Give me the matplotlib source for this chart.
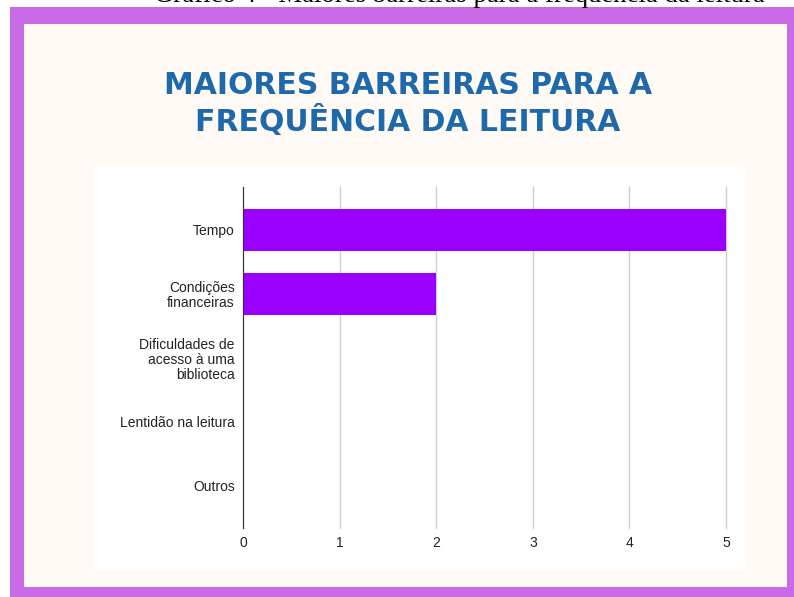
import matplotlib.pyplot as plt
from matplotlib.patches import Rectangle

plt.rcParams['font.family'] = ['Liberation Sans', 'DejaVu Sans']

categorias = ['Tempo', 'Condições\nfinanceiras', 'Dificuldades de\nacesso à uma\nbiblioteca',
              'Lentidão na leitura', 'Outros']
valores = [5, 2, 0, 0, 0]
ticks_x = [0, 1, 2, 3, 4, 5]

W, H = 794, 597
fig = plt.figure(figsize=(W / 100, H / 100), dpi=100)
fig.patch.set_facecolor('white')


def caixa(x0, y0, x1, y1, cor):
    # coordenadas em pixels, origem no canto superior esquerdo
    r = Rectangle((x0 / W, 1 - y1 / H), (x1 - x0) / W, (y1 - y0) / H,
                  transform=fig.transFigure, facecolor=cor, edgecolor='none', zorder=-10)
    fig.add_artist(r)


caixa(10, 7, W, H, '#C96BE6')
caixa(24, 24, 787, 587, '#FFFAF5')
caixa(93, 167, 746, 570, 'white')

# legenda cortada no topo da página
fig.text(459 / W, 1 - 2 / H, 'Gráfico 4 - Maiores barreiras para a frequência da leitura',
         ha='center', va='baseline', fontsize=19.3, family='Liberation Serif', color='black')

fig.text(408 / W, 1 - 86 / H, 'MAIORES BARREIRAS PARA A', ha='center', va='center',
         fontsize=21.5, fontweight='bold', family='DejaVu Sans', color='#1E68AC')
fig.text(408 / W, 1 - 121 / H, 'FREQUÊNCIA DA LEITURA', ha='center', va='center',
         fontsize=21.5, fontweight='bold', family='DejaVu Sans', color='#1E68AC')

ax = fig.add_axes([243 / W, 1 - 528 / H, (726 - 243) / W, (528 - 187) / H])
ax.set_facecolor('white')
pos = list(range(len(categorias)))
ax.barh(pos, valores, height=0.66, color='#9900FF', zorder=3)
ax.set_xlim(0, 5)
ax.set_ylim(4.66, -0.67)
ax.set_xticks(ticks_x)
ax.set_xticklabels([str(t) for t in ticks_x], fontsize=10, color='#222222')
ax.set_yticks(pos)
ax.set_yticklabels(categorias, fontsize=10, color='#222222', linespacing=1.1)
for lab in ax.get_yticklabels():
    lab.set_multialignment('right')
ax.tick_params(axis='y', length=0, pad=6)
ax.tick_params(axis='x', length=0, pad=6)
ax.grid(axis='x', color='#CCCCCC', linewidth=1, zorder=0)
for gl in ax.get_xgridlines():
    gl.set_clip_on(False)
for s in ['top', 'right', 'bottom']:
    ax.spines[s].set_visible(False)
ax.spines['left'].set_color('#333333')
ax.spines['left'].set_zorder(4)

fig.savefig('out.png', dpi=100)
